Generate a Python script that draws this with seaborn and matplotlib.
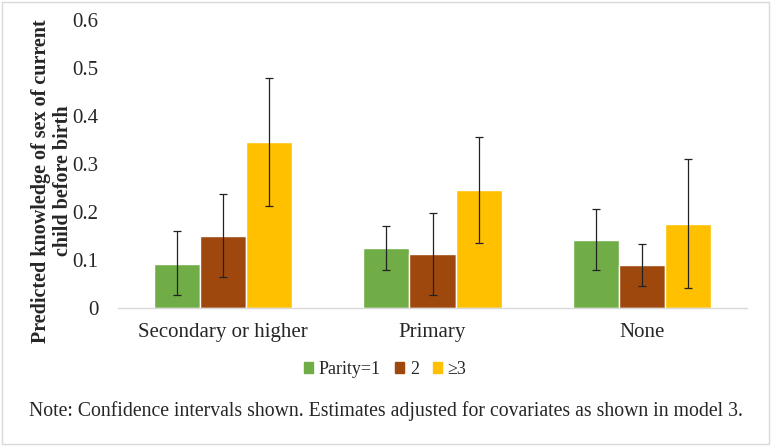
import pandas as pd
import matplotlib.pyplot as plt
import seaborn as sns
from matplotlib.patches import Rectangle

# education groups and parity levels
education = ["Secondary or higher", "Primary", "None"]
parity = ["Parity=1", "2", "\u22653"]

# predicted values (rows = parity, cols = education)
est_p1 = [0.092, 0.124, 0.142]
est_p2 = [0.149, 0.112, 0.089]
est_p3 = [0.346, 0.246, 0.175]

low_p1 = [0.026, 0.078, 0.078]
low_p2 = [0.064, 0.026, 0.045]
low_p3 = [0.213, 0.134, 0.041]

high_p1 = [0.161, 0.171, 0.206]
high_p2 = [0.238, 0.198, 0.132]
high_p3 = [0.479, 0.357, 0.311]

colors = ["#70AD47", "#9E480E", "#FFC000"]

rows = []
for lvl, est, lo, hi in zip(parity, [est_p1, est_p2, est_p3],
                            [low_p1, low_p2, low_p3], [high_p1, high_p2, high_p3]):
    for edu, e, l, h in zip(education, est, lo, hi):
        rows.append({"education": edu, "parity": lvl, "value": e, "low": l, "high": h})
df = pd.DataFrame(rows)

sns.set_style("white")
plt.rcParams["font.family"] = ["Liberation Serif", "DejaVu Serif"]

fig = plt.figure(figsize=(7.71, 4.46), dpi=100)
ax = fig.add_axes([0.153, 0.31, 0.816, 0.645])

sns.barplot(data=df, x="education", y="value", hue="parity", order=education,
            hue_order=parity, palette=colors, errorbar=None, width=0.66,
            saturation=1, ax=ax, legend=False)

# confidence intervals from the data
for lvl, container in zip(parity, ax.containers):
    sub = df[df["parity"] == lvl].set_index("education").loc[education]
    xs = [b.get_x() + b.get_width() / 2 for b in container]
    ax.errorbar(xs, sub["value"], yerr=[sub["value"] - sub["low"], sub["high"] - sub["value"]],
                fmt="none", ecolor="#222222", elinewidth=0.9, capsize=3, capthick=0.9)

ax.set_xlim(-0.5, 2.5)
ax.set_ylim(0, 0.6)
ax.set_yticks([0, 0.1, 0.2, 0.3, 0.4, 0.5, 0.6])
ax.set_yticklabels(["0", "0.1", "0.2", "0.3", "0.4", "0.5", "0.6"])
ax.tick_params(axis="y", labelsize=15, length=0, pad=14)
ax.tick_params(axis="x", labelsize=15, length=0, pad=11)
ax.set_xlabel("")
ax.set_ylabel("Predicted knowledge of sex of current\nchild before birth",
              fontsize=14.5, fontweight="bold", linespacing=1.1)
ax.yaxis.set_label_coords(-0.072, 0.44)
for s in ["top", "right", "left"]:
    ax.spines[s].set_visible(False)
ax.spines["bottom"].set_color("#D9D9D9")
ax.spines["bottom"].set_linewidth(1)

handles = [Rectangle((0, 0), 1, 1, color=c) for c in colors]
fig.legend(handles, parity, loc="center", bbox_to_anchor=(0.5, 0.172), ncol=3,
           frameon=False, fontsize=13, handlelength=0.5, handleheight=0.5,
           handletextpad=0.3, columnspacing=0.8)

fig.text(0.5, 0.078, "Note: Confidence intervals shown. Estimates adjusted for covariates as shown in model 3.",
         ha="center", va="center", fontsize=14.2)

fig.patches.append(Rectangle((0.003, 0.004), 0.994, 0.992, transform=fig.transFigure,
                             fill=False, edgecolor="#D9D9D9", linewidth=1))

fig.savefig("out.png", dpi=100)
